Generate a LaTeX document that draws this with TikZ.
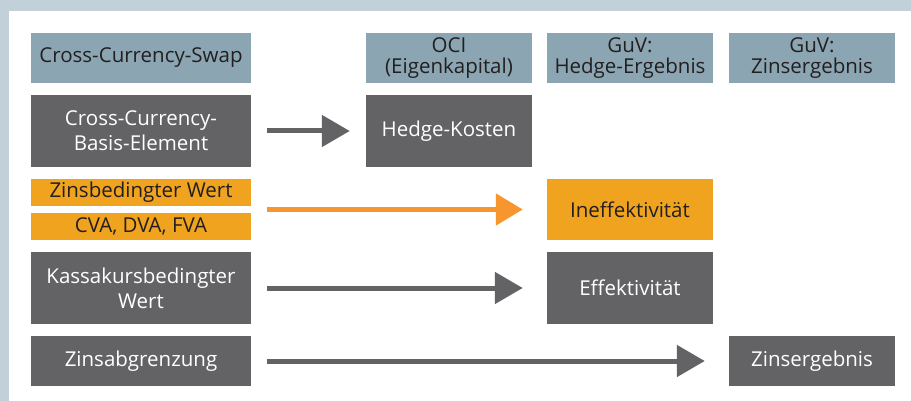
\documentclass[tikz,border=0pt]{standalone}
\usepackage{fontspec}
\setmainfont{Open Sans}
\usetikzlibrary{arrows.meta}
\definecolor{frame}{HTML}{C1D0D9}
\definecolor{hdr}{HTML}{8BA6B2}
\definecolor{dk}{HTML}{636365}
\definecolor{orbox}{HTML}{F0A31F}
\definecolor{orarr}{HTML}{F7962E}
\definecolor{txt}{HTML}{231F20}
\tikzset{
  box/.style={rectangle, inner sep=0pt, align=center, font=\fontsize{20.5}{25}\selectfont},
  hdrbox/.style={box, fill=hdr, text=txt, font=\fontsize{20.5}{21.5}\selectfont},
  dkbox/.style={box, fill=dk, text=white},
  orbx/.style={box, fill=orbox, text=txt},
  garrow/.style={draw=dk, line width=5pt, -{Triangle[length=28pt,width=31pt]}},
  oarrow/.style={draw=orarr, line width=5pt, -{Triangle[length=27pt,width=31pt]}},
}
\begin{document}
\begin{tikzpicture}[x=1pt,y=-1pt]
\useasboundingbox (0,0) rectangle (911,401);
\fill[frame] (0,0) rectangle (911,401);
\fill[white] (9,11) rectangle (911,401);
% headers
\node[hdrbox, minimum width=220pt, minimum height=50pt] (h1) at (141,58) {Cross-Currency-Swap};
\node[hdrbox, minimum width=166pt, minimum height=50pt] (h2) at (449,58) {OCI\\(Eigenkapital)};
\node[hdrbox, minimum width=166pt, minimum height=50pt] (h3) at (630,58) {GuV:\\Hedge-Ergebnis};
\node[hdrbox, minimum width=166pt, minimum height=50pt] (h4) at (812,58) {GuV:\\Zinsergebnis};
% left column
\node[dkbox, minimum width=220pt, minimum height=72pt] (ccb) at (141,131) {Cross-Currency-\\Basis-Element};
\node[orbx, minimum width=220pt, minimum height=27pt] (zw) at (141,192.5) {Zinsbedingter Wert};
\node[orbx, minimum width=220pt, minimum height=27pt] (cva) at (141,226.5) {CVA, DVA, FVA};
\node[dkbox, minimum width=220pt, minimum height=72pt] (kass) at (141,288) {Kassakursbedingter\\Wert};
\node[dkbox, minimum width=220pt, minimum height=50pt] (zab) at (141,361) {Zinsabgrenzung};
% targets
\node[dkbox, minimum width=166pt, minimum height=72pt] (hk) at (449,131) {Hedge-Kosten};
\node[orbx, minimum width=166pt, minimum height=61pt] (ineff) at (630,209.5) {Ineffektivität};
\node[dkbox, minimum width=166pt, minimum height=72pt] (eff) at (630,288) {Effektivität};
\node[dkbox, minimum width=166pt, minimum height=50pt] (zerg) at (812,361) {Zinsergebnis};
% arrows
\draw[garrow, shorten <=16pt, shorten >=16pt] (ccb.east) -- (hk.west);
\draw[oarrow, shorten <=16pt, shorten >=24pt] (zw.east |- ineff.west) -- (ineff.west);
\draw[garrow, shorten <=16pt, shorten >=24pt] (kass.east) -- (eff.west);
\draw[garrow, shorten <=16pt, shorten >=24pt] (zab.east) -- (zerg.west);
\end{tikzpicture}
\end{document}
